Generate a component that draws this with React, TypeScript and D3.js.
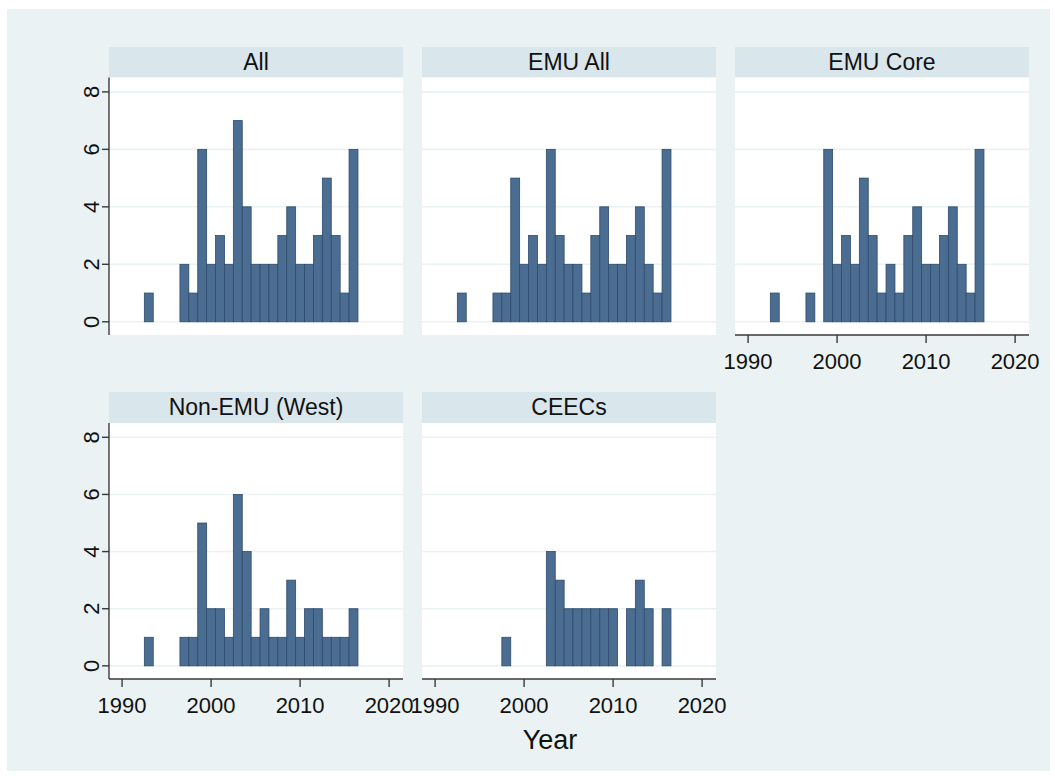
import React from "react";
import * as d3 from "d3";

const panelTitles = ["All", "EMU All", "EMU Core", "Non-EMU (West)", "CEECs"];

const yearsAll = [1993, 1997, 1998, 1999, 2000, 2001, 2002, 2003, 2004, 2005, 2006, 2007, 2008, 2009, 2010, 2011, 2012, 2013, 2014, 2015, 2016];
const countsAll = [1, 2, 1, 6, 2, 3, 2, 7, 4, 2, 2, 2, 3, 4, 2, 2, 3, 5, 3, 1, 6];

const yearsEmuAll = [1993, 1997, 1998, 1999, 2000, 2001, 2002, 2003, 2004, 2005, 2006, 2007, 2008, 2009, 2010, 2011, 2012, 2013, 2014, 2015, 2016];
const countsEmuAll = [1, 1, 1, 5, 2, 3, 2, 6, 3, 2, 2, 1, 3, 4, 2, 2, 3, 4, 2, 1, 6];

const yearsEmuCore = [1993, 1997, 1999, 2000, 2001, 2002, 2003, 2004, 2005, 2006, 2007, 2008, 2009, 2010, 2011, 2012, 2013, 2014, 2015, 2016];
const countsEmuCore = [1, 1, 6, 2, 3, 2, 5, 3, 1, 2, 1, 3, 4, 2, 2, 3, 4, 2, 1, 6];

const yearsNonEmu = [1993, 1997, 1998, 1999, 2000, 2001, 2002, 2003, 2004, 2005, 2006, 2007, 2008, 2009, 2010, 2011, 2012, 2013, 2014, 2015, 2016];
const countsNonEmu = [1, 1, 1, 5, 2, 2, 1, 6, 4, 1, 2, 1, 1, 3, 1, 2, 2, 1, 1, 1, 2];

const yearsCeec = [1998, 2003, 2004, 2005, 2006, 2007, 2008, 2009, 2010, 2012, 2013, 2014, 2016];
const countsCeec = [1, 4, 3, 2, 2, 2, 2, 2, 2, 2, 3, 2, 2];

const yTicks = [0, 2, 4, 6, 8];
const xTicks = [1990, 2000, 2010, 2020];
const xTitle = "Year";

const panelYears = [yearsAll, yearsEmuAll, yearsEmuCore, yearsNonEmu, yearsCeec];
const panelCounts = [countsAll, countsEmuAll, countsEmuCore, countsNonEmu, countsCeec];

const FONT = "'Liberation Sans', Arial, Helvetica, sans-serif";
const BG = "#eaf2f3";
const HEADER = "#d9e6eb";
const BAR = "#4a6d91";
const BAR_EDGE = "#2d4b6c";
const AXIS = "#3a3a3a";

const colX = [109, 422, 735];
const panelW = 294;
const rows = [
  { headTop: 47, plotTop: 77.5, plotBottom: 335 },
  { headTop: 392, plotTop: 423, plotBottom: 679 },
];

export default function App() {
  const panels = panelTitles.map((title, i) => {
    const r = Math.floor(i / 3);
    const c = i % 3;
    const x0 = colX[c];
    const row = rows[r];
    const x = d3.scaleLinear().domain([1988.53, 2021.56]).range([x0, x0 + panelW]);
    const y = d3.scaleLinear().domain([-0.46, 8.5]).range([row.plotBottom, row.plotTop]);
    const showY = c === 0;
    const showX = r === 1 || c === 2;
    const data = panelYears[i].map((yr, k) => ({ yr, n: panelCounts[i][k] }));
    return (
      <g key={title}>
        <rect x={x0} y={row.headTop} width={panelW} height={row.plotTop - row.headTop} fill={HEADER} />
        <text x={x0 + panelW / 2} y={row.headTop + 23} textAnchor="middle" fontSize={23} fontFamily={FONT} fill="#111">{title}</text>
        <rect x={x0} y={row.plotTop} width={panelW} height={row.plotBottom - row.plotTop} fill="#ffffff" />
        {yTicks.map((t) => (
          <line key={"g" + t} x1={x0} x2={x0 + panelW} y1={y(t)} y2={y(t)} stroke={BG} strokeWidth={1.6} />
        ))}
        {data.map((d) => (
          <rect
            key={d.yr}
            x={x(d.yr - 0.5)}
            y={y(d.n)}
            width={x(d.yr + 0.5) - x(d.yr - 0.5)}
            height={y(0) - y(d.n)}
            fill={BAR}
            stroke={BAR_EDGE}
            strokeWidth={0.8}
          />
        ))}
        {showY && (
          <g>
            <line x1={x0} x2={x0} y1={row.plotTop} y2={row.plotBottom} stroke={AXIS} strokeWidth={1.4} />
            {yTicks.map((t) => (
              <g key={"yt" + t}>
                <line x1={x0 - 7} x2={x0} y1={y(t)} y2={y(t)} stroke={AXIS} strokeWidth={1.4} />
                <text
                  transform={`translate(${x0 - 18},${y(t)}) rotate(-90)`}
                  textAnchor="middle"
                  dominantBaseline="central"
                  fontSize={22}
                  fontFamily={FONT}
                  fill="#111"
                >
                  {t}
                </text>
              </g>
            ))}
          </g>
        )}
        {showX && (
          <g>
            <line x1={x0} x2={x0 + panelW} y1={row.plotBottom} y2={row.plotBottom} stroke={AXIS} strokeWidth={1.4} />
            {xTicks.map((t) => (
              <g key={"xt" + t}>
                <line x1={x(t)} x2={x(t)} y1={row.plotBottom} y2={row.plotBottom + 8} stroke={AXIS} strokeWidth={1.4} />
                <text x={x(t)} y={row.plotBottom + 34} textAnchor="middle" fontSize={22} fontFamily={FONT} fill="#111">
                  {t}
                </text>
              </g>
            ))}
          </g>
        )}
      </g>
    );
  });

  return (
    <svg width={1055} height={776} style={{ position: "absolute", left: 0, top: 0 }}>
      <rect x={0} y={0} width={1055} height={776} fill="#ffffff" />
      <rect x={7} y={9} width={1043} height={762} fill={BG} />
      {panels}
      <text x={550} y={749} textAnchor="middle" fontSize={27} fontFamily={FONT} fill="#111">{xTitle}</text>
    </svg>
  );
}
